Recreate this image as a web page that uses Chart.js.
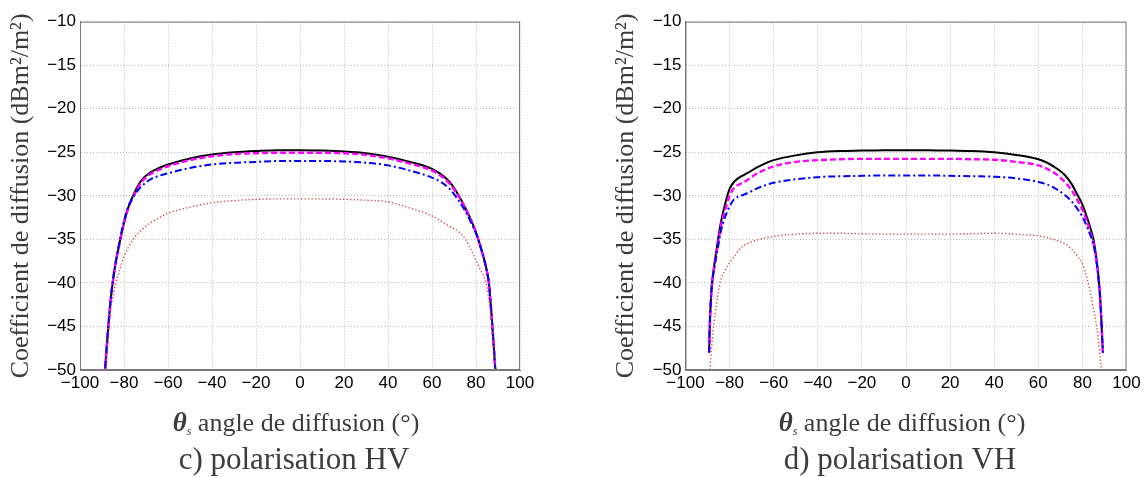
<!DOCTYPE html>
<html><head><meta charset="utf-8">
<script src="https://cdn.jsdelivr.net/npm/chart.js@4/dist/chart.umd.min.js"></script>
<style>
html,body{margin:0;padding:0;background:#fff;}
#wrap{position:relative;width:1145px;height:477px;overflow:hidden;}
.box{position:absolute;top:0;height:477px;}
</style></head><body>
<div id="wrap">
<div class="box" style="left:0;width:572px"><canvas id="c1"></canvas></div>
<div class="box" style="left:572px;width:573px"><canvas id="c2"></canvas></div>
</div>
<script>
// ---- data ----
const xTicks = [-100,-80,-60,-40,-20,0,20,40,60,80,100];
const yTicks = [-10,-15,-20,-25,-30,-35,-40,-45,-50];

const anglesHV = [-89,-88,-87,-86,-85,-84,-82,-80,-78,-75,-72,-68,-64,-60,-50,-40,-30,-20,-10,0,10,20,30,40,50,60,64,68,72,75,78,80,82,84,85,86,87,88,89];
const hvSolid  = [-51.5,-47.8,-44.6,-41.8,-39.7,-38.0,-35.4,-33.1,-31.3,-29.5,-28.2,-27.3,-26.8,-26.4,-25.7,-25.25,-25.0,-24.85,-24.75,-24.75,-24.8,-24.9,-25.1,-25.5,-26.1,-26.9,-27.5,-28.4,-29.9,-31.3,-32.9,-34.2,-35.8,-37.6,-38.7,-40.3,-43.5,-47.0,-50.8];
const hvDashed = [-51.5,-47.8,-44.6,-41.8,-39.7,-38.0,-35.4,-33.1,-31.4,-29.7,-28.4,-27.5,-27.0,-26.6,-25.9,-25.45,-25.2,-25.1,-25.05,-25.05,-25.05,-25.1,-25.3,-25.7,-26.3,-27.1,-27.7,-28.6,-30.0,-31.4,-33.0,-34.2,-35.8,-37.6,-38.7,-40.3,-43.5,-47.0,-50.8];
const hvDashDot= [-51.5,-47.8,-44.6,-41.8,-39.7,-38.0,-35.2,-32.9,-31.2,-29.8,-28.9,-28.1,-27.7,-27.4,-26.8,-26.4,-26.2,-26.1,-26.0,-26.0,-26.0,-26.05,-26.2,-26.5,-27.1,-27.9,-28.4,-29.2,-30.5,-31.7,-33.2,-34.3,-35.8,-37.6,-38.7,-40.3,-43.5,-47.0,-50.8];
const hvDotted = [-53,-49.3,-46,-43.0,-41.6,-40.3,-38.5,-37.0,-35.9,-34.7,-33.9,-33.1,-32.5,-32.0,-31.3,-30.8,-30.55,-30.4,-30.35,-30.35,-30.35,-30.4,-30.5,-30.7,-31.4,-32.3,-32.9,-33.5,-34.1,-34.9,-36.3,-37.4,-38.5,-39.6,-40.5,-42.2,-44.5,-47.8,-51.5];

const anglesVH = [-89.3,-89,-88.5,-88,-87,-86,-85,-84,-82,-80,-78,-75,-72,-68,-64,-60,-50,-40,-30,-20,-10,0,10,20,30,40,50,60,64,68,72,75,78,80,82,84,85,86,87,88,88.5,89,89.3];
const vhSolid  = [-48,-45,-42,-40.2,-38.0,-36.3,-34.6,-33.1,-30.9,-29.2,-28.4,-27.8,-27.4,-26.8,-26.3,-25.9,-25.35,-25.0,-24.85,-24.8,-24.75,-24.75,-24.75,-24.8,-24.85,-25.0,-25.3,-25.8,-26.2,-26.8,-27.6,-28.6,-30.0,-31.0,-32.4,-34.0,-35.0,-36.5,-38.5,-41.5,-43.8,-46.5,-48];
const vhDashed = [-48,-45,-42,-40.2,-38.2,-36.6,-35.1,-33.6,-31.6,-30.0,-29.1,-28.6,-28.2,-27.5,-27.0,-26.6,-26.1,-25.9,-25.8,-25.75,-25.75,-25.75,-25.75,-25.75,-25.8,-25.85,-26.1,-26.5,-26.9,-27.5,-28.4,-29.3,-30.6,-31.6,-32.9,-34.5,-35.4,-36.8,-38.7,-41.5,-43.8,-46.5,-48];
const vhDashDot= [-48,-45,-42,-40.2,-38.4,-36.9,-35.5,-34.1,-32.4,-31.2,-30.4,-30.0,-29.7,-29.2,-28.8,-28.5,-28.1,-27.85,-27.75,-27.7,-27.65,-27.65,-27.65,-27.7,-27.75,-27.8,-28.0,-28.4,-28.7,-29.2,-29.9,-30.6,-31.6,-32.4,-33.5,-34.8,-35.6,-36.9,-38.8,-41.5,-43.8,-46.5,-48];
const vhDotted = [-52,-50.3,-48.6,-47.0,-44.4,-42.5,-40.9,-39.7,-38.5,-37.7,-37.0,-36.0,-35.5,-35.1,-34.85,-34.65,-34.4,-34.3,-34.3,-34.35,-34.4,-34.4,-34.4,-34.4,-34.35,-34.3,-34.4,-34.6,-34.8,-35.1,-35.5,-36.1,-37.0,-37.8,-39.4,-41.6,-43.0,-44.3,-46.0,-48.5,-49.6,-51,-52];

const yTitle = 'Coefficient de diffusion (dBm\u00B2/m\u00B2)';
const xTitleSym = '\u03B8';
const xTitleSub = 's';
const xTitleRest = ' angle de diffusion (\u00B0)';
const subtitles = ['c) polarisation HV', 'd) polarisation VH'];

// ---- helpers ----
const pts = (a, v) => a.map((x, i) => ({x: x, y: v[i]}));
const fmt = v => (v < 0 ? '\u2212' : '') + Math.abs(v);
const TEXT = '#3c3c3c';
const SERIF = '"Liberation Serif", "DejaVu Serif", serif';
const SANS = '"Liberation Sans", Arial, sans-serif';

function datasets(ang, s, d, dd, dot) {
  const base = {pointRadius: 0, fill: false, cubicInterpolationMode: 'monotone', clip: 0};
  return [
    Object.assign({data: pts(ang, dot), borderColor: 'rgba(214,50,50,0.9)', borderWidth: 1.4, borderDash: [1.3, 2.2]}, base),
    Object.assign({data: pts(ang, dd), borderColor: '#0000ff', borderWidth: 2, borderDash: [7, 3, 2, 3]}, base),
    Object.assign({data: pts(ang, d), borderColor: '#ff00ff', borderWidth: 2.4, borderDash: [6, 3]}, base),
    Object.assign({data: pts(ang, s), borderColor: '#000000', borderWidth: 2}, base),
  ];
}

const decor = {
  id: 'decor',
  afterDraw(chart, args, opts) {
    const {ctx, chartArea: a} = chart;
    ctx.save();
    ctx.strokeStyle = '#7a7a7a';
    ctx.lineWidth = 1;
    ctx.strokeRect(a.left + 0.5, a.top + 0.5, a.right - a.left - 1, a.bottom - a.top - 1);
    const cx = (a.left + a.right) / 2;
    ctx.fillStyle = TEXT;
    ctx.textBaseline = 'alphabetic';
    const f1 = 'italic bold 27px ' + SERIF;
    const f2 = 'italic 12px ' + SERIF;
    const f3 = '26px ' + SERIF;
    ctx.font = f1; const w1 = ctx.measureText(xTitleSym).width;
    ctx.font = f2; const w2 = ctx.measureText(xTitleSub).width;
    ctx.font = f3; const w3 = ctx.measureText(xTitleRest).width;
    let x = cx - 4 - (w1 + w2 + w3) / 2;
    const by = 431;
    ctx.textAlign = 'left';
    ctx.font = f1; ctx.fillText(xTitleSym, x, by); x += w1;
    ctx.font = f2; ctx.fillText(xTitleSub, x, by + 4); x += w2;
    ctx.font = f3; ctx.fillText(xTitleRest, x, by);
    ctx.font = '31px ' + SERIF;
    ctx.textAlign = 'center';
    ctx.fillText(opts.text, cx - 6, 469);
    ctx.restore();
  }
};

function makeChart(id, ds, padLeft, yAxisW, padRight, sub) {
  new Chart(document.getElementById(id), {
    type: 'line',
    data: {datasets: ds},
    plugins: [decor],
    options: {
      responsive: true, maintainAspectRatio: false, animation: false,
      layout: {padding: {left: padLeft, right: padRight, top: 21.7, bottom: 0}},
      plugins: {legend: {display: false}, tooltip: {enabled: false}, title: {display: false}, decor: {text: sub}},
      scales: {
        x: {
          type: 'linear', min: -100, max: 100,
          afterBuildTicks: s => { s.ticks = xTicks.map(v => ({value: v})); },
          afterFit: s => { s.height = 107; },
          grid: {color: '#bdbdbd', lineWidth: 1, drawTicks: false},
          border: {display: true, color: '#7a7a7a', width: 1, dash: [1, 2]},
          ticks: {callback: fmt, color: '#000', font: {family: SANS, size: 17}, padding: 3, maxRotation: 0, autoSkip: false}
        },
        y: {
          type: 'linear', min: -50, max: -10,
          afterBuildTicks: s => { s.ticks = yTicks.map(v => ({value: v})); },
          afterFit: s => { s.width = yAxisW; },
          grid: {color: '#bdbdbd', lineWidth: 1, drawTicks: false},
          border: {display: true, color: '#7a7a7a', width: 1, dash: [1, 2]},
          ticks: {callback: fmt, color: '#000', font: {family: SANS, size: 17}, padding: 4, autoSkip: false},
          title: {display: true, text: yTitle, color: TEXT, font: {family: SERIF, size: 26}, padding: {top: 6, bottom: 0}}
        }
      }
    }
  });
}

makeChart('c1', datasets(anglesHV, hvSolid, hvDashed, hvDashDot, hvDotted), 0, 80, 52, subtitles[0]);
makeChart('c2', datasets(anglesVH, vhSolid, vhDashed, vhDashDot, vhDotted), 32.4, 81.1, 18.5, subtitles[1]);
</script>
</body></html>
